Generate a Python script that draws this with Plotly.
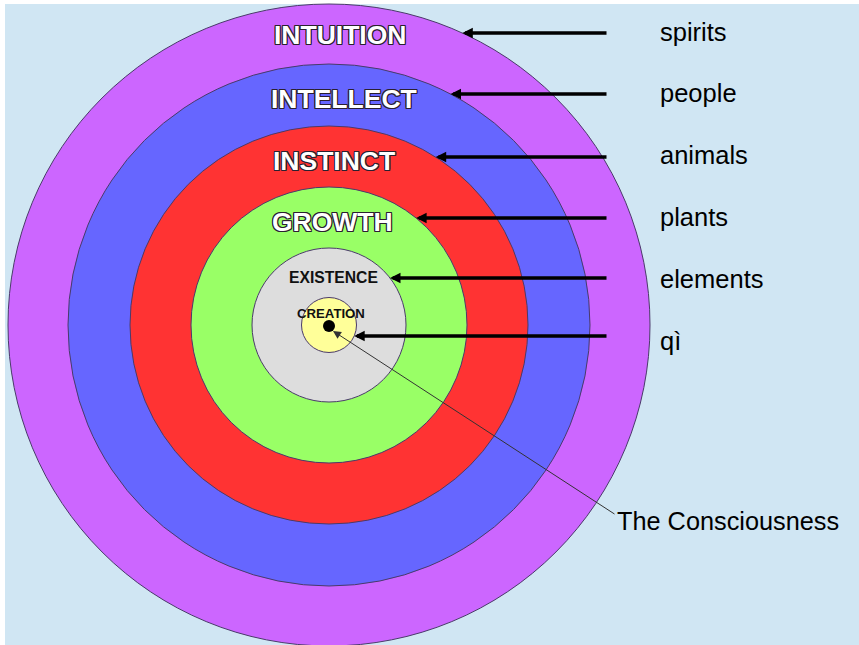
import math
import plotly.graph_objects as go

# ---- data ----
rings = ["INTUITION", "INTELLECT", "INSTINCT", "GROWTH", "EXISTENCE", "CREATION"]
beings = ["spirits", "people", "animals", "plants", "elements", "qì"]
radii = [321, 261, 199, 138, 77, 27.5]
consciousness_label = "The Consciousness"

# ---- layout / style ----
W, H = 859, 645
cx, cy = 329, 325
ring_colors = ["#CC66FF", "#6666FF", "#FF3333", "#99FF66", "#DDDDDD", "#FFFF99"]
label_pos = [(340, 35), (344, 99), (334, 161), (332, 222), (333, 277.5), (331, 313.5)]
label_sizes = [26.5, 26.5, 26.5, 26.5, 15.7, 13.2]
arrow_y = [33, 94, 157, 218, 278, 336]
being_y = [32, 93, 155, 217, 279, 341]
arrow_tail_x = 608
being_x = 658
FONT = "Liberation Sans, Arial, Helvetica, sans-serif"
outline = "#2a2030"
shadow = ", ".join(f"{dx}px {dy}px 0 {outline}" for dx in (-1, 0, 1) for dy in (-1, 0, 1) if dx or dy)

fig = go.Figure()

shapes = [dict(type="rect", xref="x", yref="y", x0=5, y0=4, x1=W, y1=H,
               fillcolor="#D0E6F3", line=dict(width=0), layer="below")]
for r, col in zip(radii, ring_colors):
    shapes.append(dict(type="circle", xref="x", yref="y",
                       x0=cx - r, x1=cx + r, y0=cy - r, y1=cy + r,
                       fillcolor=col, line=dict(color="#4a3a6a", width=1), layer="below"))

# center dot
fig.add_trace(go.Scatter(x=[cx], y=[cy + 1], mode="markers",
                         marker=dict(size=12, color="black"), hoverinfo="skip", showlegend=False))

annotations = []
for i, name in enumerate(rings):
    x, y = label_pos[i]
    if i < 4:
        font = dict(family=FONT, size=label_sizes[i], color="white", weight="bold", shadow=shadow)
    else:
        font = dict(family=FONT, size=label_sizes[i], color="#111111", weight="bold")
    annotations.append(dict(x=x, y=y, xref="x", yref="y", text=name, showarrow=False,
                            font=font, xanchor="center", yanchor="middle"))

for i, b in enumerate(beings):
    r = radii[i]
    dy = arrow_y[i] - cy
    tip_x = cx + math.sqrt(max(r * r - dy * dy, 0))
    annotations.append(dict(x=tip_x, y=arrow_y[i], ax=arrow_tail_x, ay=arrow_y[i],
                            xref="x", yref="y", axref="x", ayref="y", text="",
                            showarrow=True, arrowhead=2, arrowsize=0.6, arrowwidth=3.5,
                            arrowcolor="black", standoff=0))
    annotations.append(dict(x=being_x, y=being_y[i], xref="x", yref="y", text=b,
                            showarrow=False, xanchor="left", yanchor="middle",
                            font=dict(family=FONT, size=25.5, color="black")))

annotations.append(dict(x=333, y=331, ax=616, ay=515, xref="x", yref="y", axref="x", ayref="y",
                        text="", showarrow=True, arrowhead=2, arrowsize=1.6, arrowwidth=1,
                        arrowcolor="#333333", standoff=0))
annotations.append(dict(x=615, y=521, xref="x", yref="y", text=consciousness_label,
                        showarrow=False, xanchor="left", yanchor="middle",
                        font=dict(family=FONT, size=25.3, color="black")))

fig.update_layout(
    width=W, height=H, margin=dict(l=0, r=0, t=0, b=0),
    paper_bgcolor="white", plot_bgcolor="white",
    xaxis=dict(range=[0, W], visible=False, fixedrange=True),
    yaxis=dict(range=[H, 0], visible=False, fixedrange=True),
    shapes=shapes, annotations=annotations, showlegend=False,
)

fig.write_html("out.html", config={"displayModeBar": False},
               post_script="document.body.style.margin='0';document.body.style.overflow='hidden';")
